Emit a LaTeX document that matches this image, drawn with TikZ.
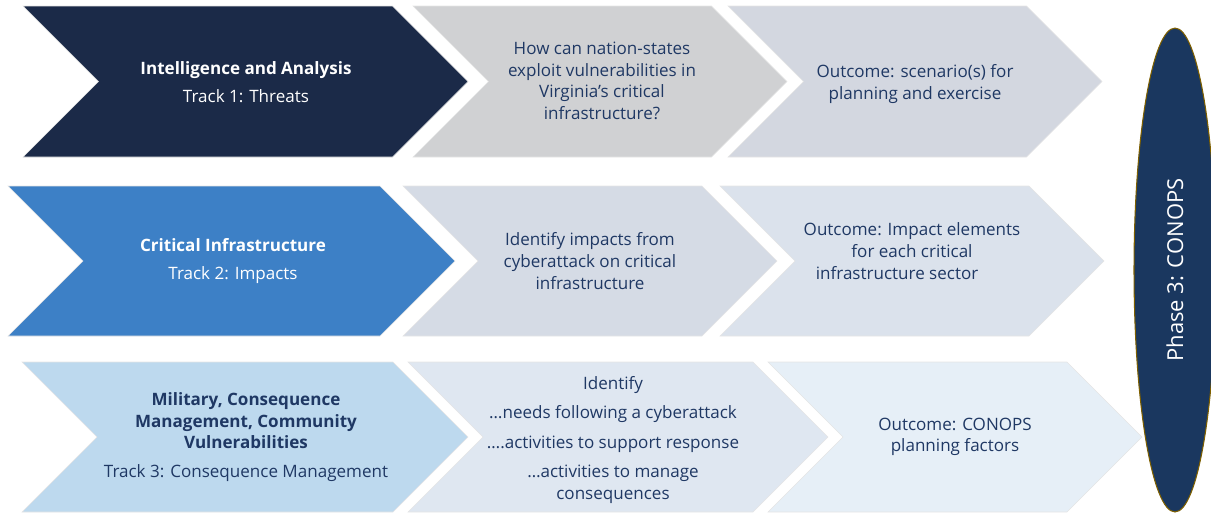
\documentclass[tikz,border=0pt]{standalone}
\usepackage{fontspec}
\setmainfont{Open Sans}
\usetikzlibrary{shapes.geometric}

\definecolor{navy}{HTML}{1B2A48}
\definecolor{greyA}{HTML}{D0D1D3}
\definecolor{greyB}{HTML}{D3D7E0}
\definecolor{midblue}{HTML}{3D80C6}
\definecolor{paleA}{HTML}{D5DBE5}
\definecolor{paleB}{HTML}{DBE2EC}
\definecolor{sky}{HTML}{BDD9EE}
\definecolor{mistA}{HTML}{DFE7F1}
\definecolor{mistB}{HTML}{E6EFF7}
\definecolor{txtblue}{HTML}{1F3864}
\definecolor{phasefill}{HTML}{1A375F}
\definecolor{phaseline}{HTML}{7F6000}

% chevron: left x, top y, tip x, bottom y, fill colour
\newcommand{\chevron}[5]{%
  \filldraw[fill=#5, draw=black!10, line width=0.3pt]
    (#1,#2) -- ({#3-(#4-#2)/2},#2) -- (#3,{(#2+#4)/2})
    -- ({#3-(#4-#2)/2},#4) -- (#1,#4) -- ({#1+(#4-#2)/2},{(#2+#4)/2}) -- cycle;}

\tikzset{
  lbl/.style={align=center, text=txtblue, font=\fontsize{9.7}{12.3}\selectfont},
  lblwhite/.style={lbl, text=white},
}

\begin{document}
\begin{tikzpicture}[x=0.02cm, y=-0.02cm]
    \useasboundingbox (0,0) rectangle (1211,515);

    % Track 1
    \chevron{23}{6}{468}{157}{navy}
    \chevron{413}{6}{787}{157}{greyA}
    \chevron{728}{6}{1102}{157}{greyB}
    \node[lblwhite] (threats) at (246,82) {\textbf{Intelligence and Analysis}\\[4pt] Track 1: Threats};
    \node[lbl] (exploit) at (602,81) {How can nation-states\\ exploit vulnerabilities in\\ Virginia’s critical\\ infrastructure?};
    \node[lbl] (scenario) at (915,84) {Outcome: scenario(s) for\\ planning and exercise};

    % Track 2
    \chevron{8}{186}{455}{336}{midblue}
    \chevron{403}{186}{777}{336}{paleA}
    \chevron{720}{186}{1104}{336}{paleB}
    \node[lblwhite] (impacts) at (233,261) {\textbf{Critical Infrastructure}\\[4pt] Track 2: Impacts};
    \node[lbl] (identify) at (590,261) {Identify impacts from\\ cyberattack on critical\\ infrastructure};
    \node[lbl] (elements) at (912,251) {Outcome: Impact elements\\ for each critical\\ infrastructure sector\makebox[17pt]{}};

    % Track 3
    \chevron{22}{362}{468}{512}{sky}
    \chevron{408}{362}{828}{512}{mistA}
    \chevron{768}{362}{1142}{512}{mistB}
    \node[lbl] (consequence) at (246,437) {\textbf{Military, Consequence}\\ \textbf{Management, Community}\\ \textbf{Vulnerabilities}\\[4pt] Track 3: Consequence Management};
    \node[lbl] (needs) at (613,440) {Identify\\[4.5pt] …needs following a cyberattack\\[4.5pt] ….activities to support response\\[4.5pt] …activities to manage\\ consequences};
    \node[lbl] (factors) at (955,437) {Outcome: CONOPS\\ planning factors};

    % Phase 3 oval
    \node[ellipse, rotate=90, fill=phasefill, draw=phaseline, line width=0.6pt,
          minimum width=9.68cm, minimum height=1.64cm, inner sep=0pt,
          text=white, font=\fontsize{12.5}{15}\selectfont] (phase) at (1175,270) {Phase 3: CONOPS};
\end{tikzpicture}
\end{document}
